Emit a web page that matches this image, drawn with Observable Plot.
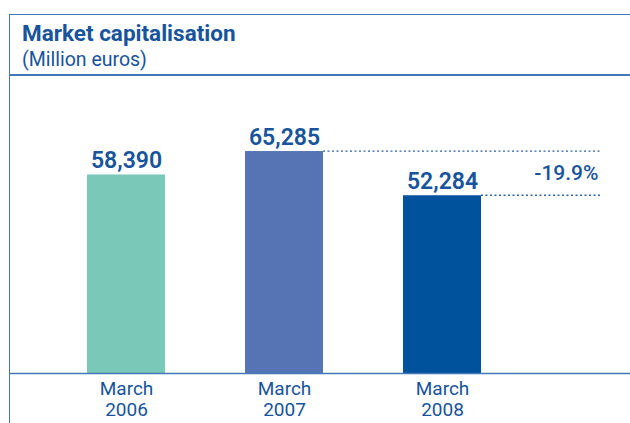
<!DOCTYPE html>
<html><head><meta charset="utf-8">
<script src="https://cdn.jsdelivr.net/npm/d3@7"></script>
<script src="https://cdn.jsdelivr.net/npm/@observablehq/plot@0.6"></script>
<style>
body{margin:0;background:#fff;}
#wrap{position:relative;width:630px;height:423px;overflow:hidden;font-family:Roboto,"Noto Sans",sans-serif;color:#17549c}
.frame{position:absolute;left:9px;top:14px;right:-4px;bottom:-4px;border-left:1.5px solid #4577b8;border-top:1.5px solid #4577b8}
.sep{position:absolute;left:9px;right:0;top:74px;border-top:2px solid #4577b8}
.title{position:absolute;left:22px;top:22px;font-size:22.5px;font-weight:700;line-height:1;}
.sub{position:absolute;left:22px;top:50px;font-size:19.5px;line-height:1;}
#chart{position:absolute;left:0;top:77px}
</style></head>
<body>
<div id="wrap">
  <div class="frame"></div>
  <div class="sep"></div>
  <div class="title">Market capitalisation</div>
  <div class="sub">(Million euros)</div>
  <div id="chart"></div>
</div>
<script>
const years = ["2006", "2007", "2008"];
const values = [58390, 65285, 52284];
const colors = ["#79c8b8", "#5674b4", "#00529c"];
const tickPrefix = "March";
const changeLabel = "-19.9%";
const refYears = ["2007", "2008"]; // dotted reference lines start at these bars

const data = years.map((y, i) => ({year: y, value: values[i], color: colors[i]}));
const refs = data.filter(d => refYears.includes(d.year));
const mid = (refs[0].value + refs[1].value) / 2;
const textColor = "#17549c";

const dotted = (index, scales, vals, dim) => {
  const x = scales.x, y = scales.y;
  const bw = typeof x.bandwidth === "function" ? x.bandwidth() : x.bandwidth;
  const g = d3.create("svg:g");
  const xEnd = dim.width - dim.marginRight - 30;
  for (const r of refs) {
    const x0 = x(r.year) + bw;
    g.append("line")
      .attr("x1", x0).attr("x2", xEnd)
      .attr("y1", y(r.value)).attr("y2", y(r.value))
      .attr("stroke", "#2d64aa").attr("stroke-width", 1.3)
      .attr("stroke-dasharray", "2,2.5");
  }
  return g.node();
};

const chart = Plot.plot({
  width: 630, height: 346,
  marginLeft: 9, marginRight: 0, marginTop: 58, marginBottom: 50,
  x: {domain: years, paddingInner: 0.5094, paddingOuter: 0.7076, align: 0.342},
  y: {domain: [0, 70000], axis: null},
  color: {type: "identity"},
  style: {fontFamily: "Roboto, 'Noto Sans', sans-serif", color: textColor, background: "transparent"},
  marks: [
    Plot.barY(data, {x: "year", y: "value", fill: "color"}),
    Plot.ruleY([0], {stroke: "#4577b8", strokeWidth: 1.5}),
    Plot.text(data, {x: "year", y: "value", text: d => d3.format(",")(d.value),
      lineAnchor: "bottom", dy: -7, fontSize: 23, fontWeight: 600, fill: textColor}),
    dotted,
    Plot.text([changeLabel], {y: [mid], text: d => d, frameAnchor: "right", dx: -32,
      textAnchor: "end", fontSize: 21, fontWeight: 500, fill: textColor}),
    Plot.axisX({tickSize: 0, tickPadding: 7, label: null, fontSize: 19, lineHeight: 1.1,
      tickFormat: d => `${tickPrefix}\n${d}`, fill: textColor,
      fontFamily: "Roboto, sans-serif"})
  ]
});
document.getElementById("chart").appendChild(chart);
</script>
</body></html>
